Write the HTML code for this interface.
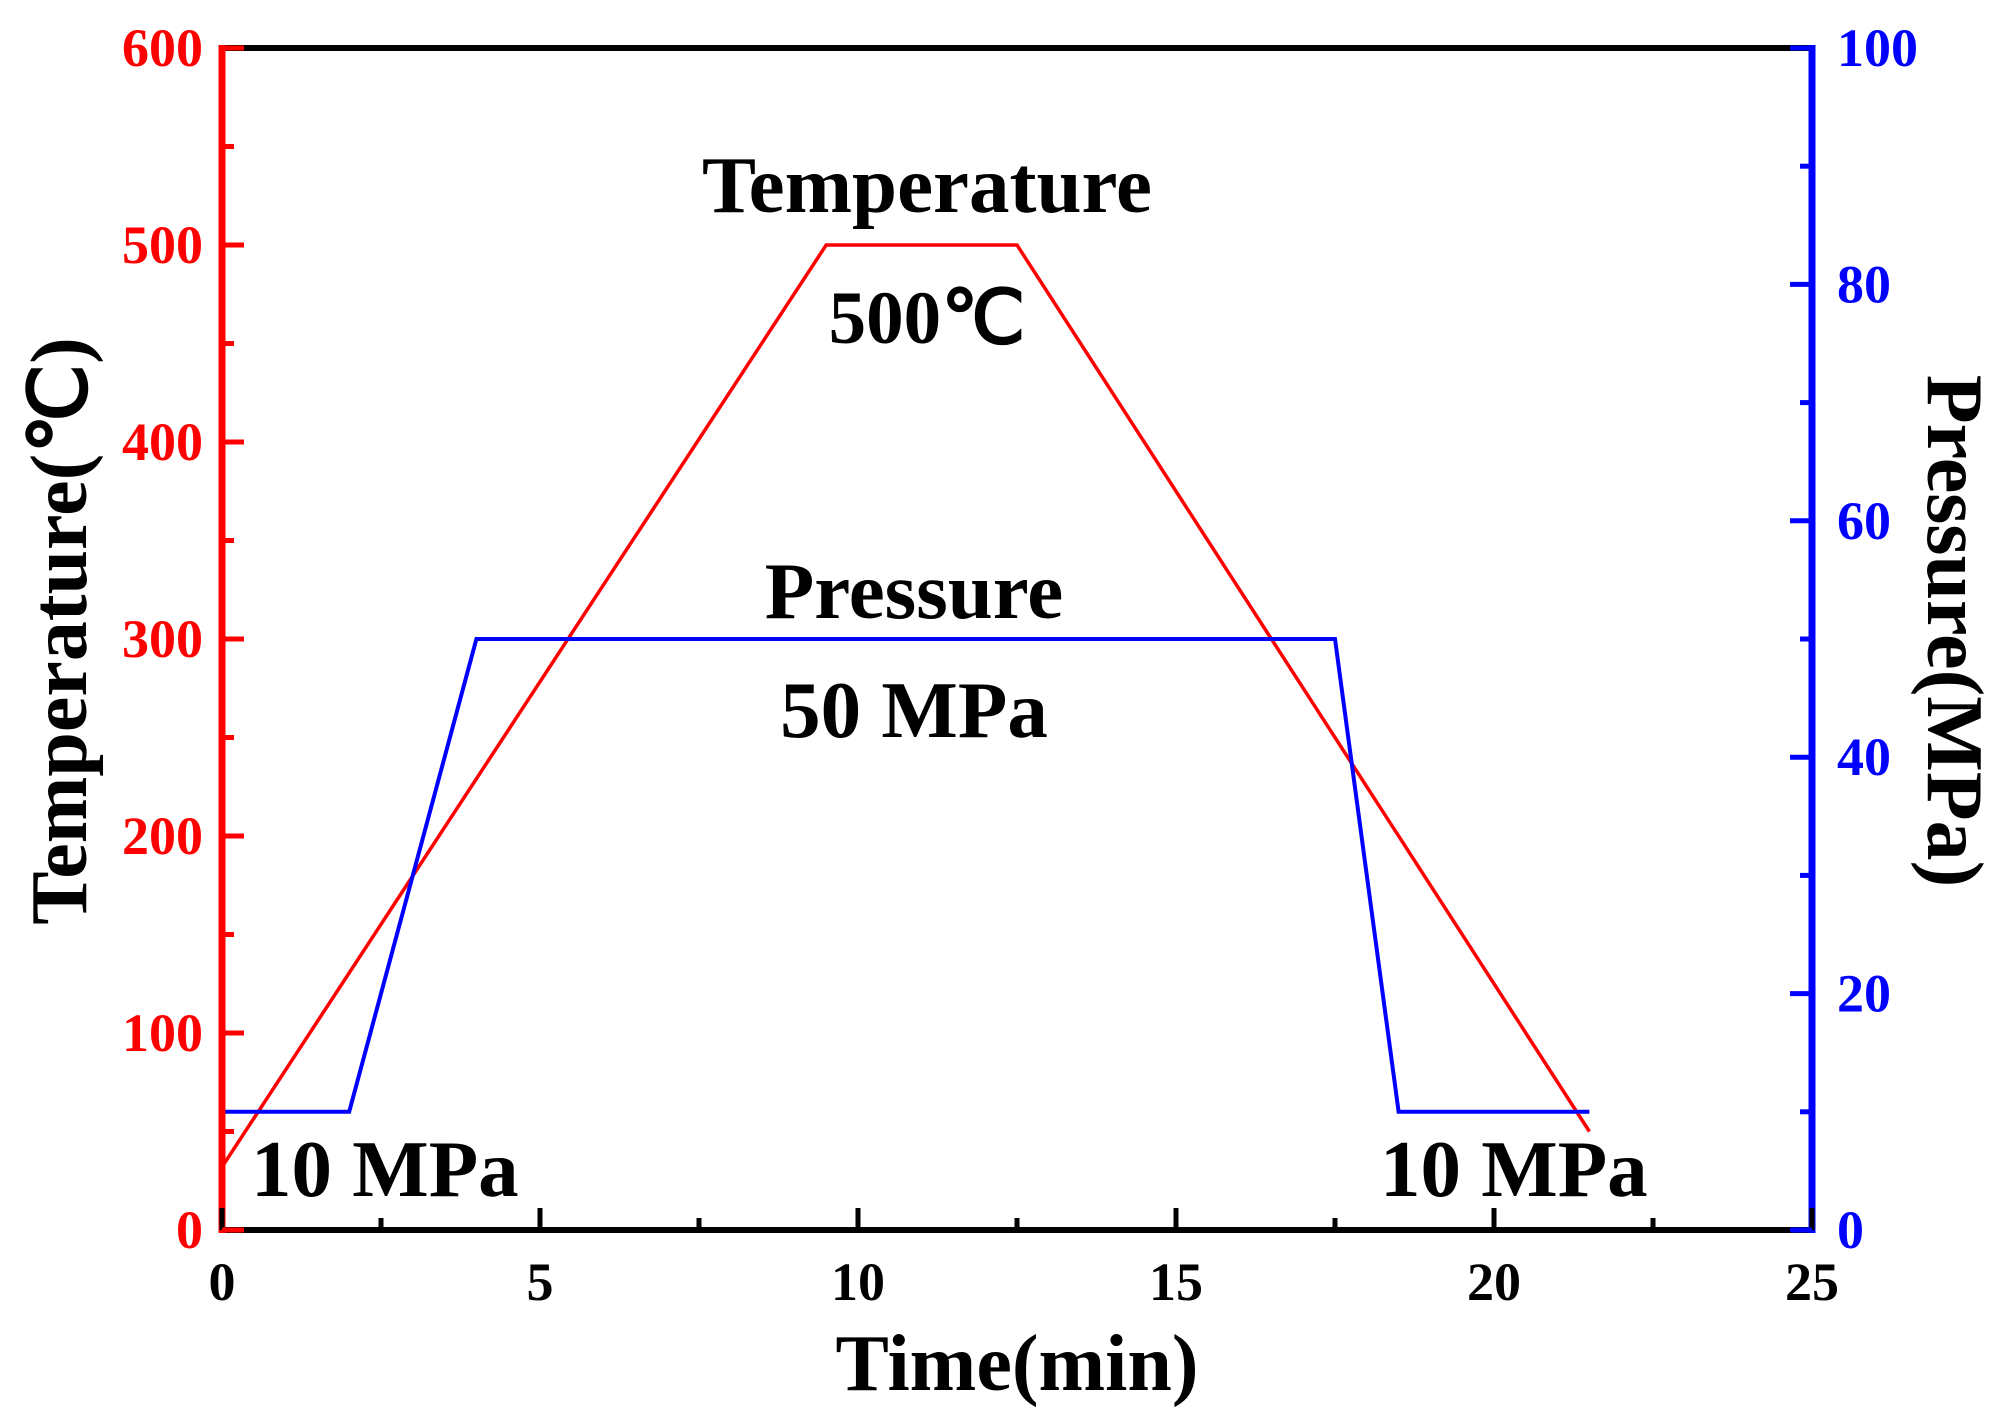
<!DOCTYPE html>
<html><head><meta charset="utf-8"><style>
html,body{margin:0;padding:0;background:#fff;}
svg{display:block;font-family:"Liberation Serif",serif;font-weight:bold;}
</style></head><body>
<svg id="chart" width="2008" height="1424" viewBox="0 0 2008 1424" xmlns="http://www.w3.org/2000/svg"></svg>
<script>
const timeVals=[0,9.5,12.5,21.5];
const tempVals=[32,500,500,50];
const presTime=[0,2,4,17.5,18.5,21.5];
const presVals=[10,10,50,50,10,10];
const xTicks=[0,5,10,15,20,25];
const tTicks=[0,100,200,300,400,500,600];
const pTicks=[0,20,40,60,80,100];

const L=222,R=1812,T=48,B=1230;
const X=v=>L+(v/25)*(R-L);
const YT=v=>B-(v/600)*(B-T);
const YP=v=>B-(v/100)*(B-T);
const svg=document.getElementById('chart');
const NS='http://www.w3.org/2000/svg';
function mk(tag,attrs,parent){const e=document.createElementNS(NS,tag);for(const k in attrs)e.setAttribute(k,attrs[k]);(parent||svg).appendChild(e);return e;}

const tl=mk('polyline',{points:timeVals.map((t,i)=>X(t)+','+YT(tempVals[i])).join(' '),fill:'none',stroke:'#ff0000','stroke-width':3.5});


const pl=mk('polyline',{points:presTime.map((t,i)=>X(t)+','+YP(presVals[i])).join(' '),fill:'none',stroke:'#0000ff','stroke-width':4});



const topAxis=mk('line',{x1:L,y1:T,x2:R,y2:T,stroke:'#000','stroke-width':6});


const xa=mk('line',{x1:L,y1:B,x2:R,y2:B,stroke:'#000','stroke-width':6});


const ya=mk('line',{x1:L,y1:T-3,x2:L,y2:B+3,stroke:'#ff0000','stroke-width':7});


const yb=mk('line',{x1:R,y1:T-3,x2:R,y2:B+3,stroke:'#0000ff','stroke-width':7});



for(let i=0;i<xTicks.length;i++){
  const v=xTicks[i];
  const tk=mk('line',{x1:X(v),y1:B,x2:X(v),y2:B-22,stroke:'#000','stroke-width':5});
  
  
  if(i<xTicks.length-1){const m=mk('line',{x1:X(v+2.5),y1:B,x2:X(v+2.5),y2:B-12,stroke:'#000','stroke-width':5});
  
  }
  const lb=mk('text',{x:X(v),y:1300,'text-anchor':'middle','font-size':54,fill:'#000'});
  lb.textContent=v;
  
  
}
for(let i=0;i<tTicks.length;i++){
  const v=tTicks[i];
  const tk=mk('line',{x1:L,y1:YT(v),x2:L+22,y2:YT(v),stroke:'#ff0000','stroke-width':5});
  
  
  if(i<tTicks.length-1){const m=mk('line',{x1:L,y1:YT(v+50),x2:L+12,y2:YT(v+50),stroke:'#ff0000','stroke-width':5});
  
  }
  const lb=mk('text',{x:203,y:YT(v)+18,'text-anchor':'end','font-size':54,fill:'#ff0000'});
  lb.textContent=v;
  
  
}
for(let i=0;i<pTicks.length;i++){
  const v=pTicks[i];
  const tk=mk('line',{x1:R,y1:YP(v),x2:R-22,y2:YP(v),stroke:'#0000ff','stroke-width':5});
  
  
  if(i<pTicks.length-1){const m=mk('line',{x1:R,y1:YP(v+10),x2:R-12,y2:YP(v+10),stroke:'#0000ff','stroke-width':5});
  
  }
  const lb=mk('text',{x:1837,y:YP(v)+18,'text-anchor':'start','font-size':54,fill:'#0000ff'});
  lb.textContent=v;
  
  
}
function txt(s,a,name){const e=mk('text',a);e.textContent=s;return e;}
txt('Time(min)',{x:1017,y:1390,'text-anchor':'middle','font-size':80,fill:'#000'},'x-axis-title');
txt('Temperature(℃)',{x:0,y:0,'text-anchor':'middle','font-size':80,fill:'#000',transform:'translate(86,631) rotate(-90)'},'temperature-axis-title');
txt('Pressure(MPa)',{x:0,y:0,'text-anchor':'middle','font-size':80,fill:'#000',transform:'translate(1928,631) rotate(90)'},'pressure-axis-title');
txt('Temperature',{x:927,y:212,'text-anchor':'middle','font-size':81,fill:'#000'},'temperature-label');
txt('500℃',{x:927,y:343,'text-anchor':'middle','font-size':75,fill:'#000'},'temperature-value-label');
txt('Pressure',{x:914,y:618,'text-anchor':'middle','font-size':81,fill:'#000'},'pressure-label');
txt('50 MPa',{x:914,y:737,'text-anchor':'middle','font-size':81,fill:'#000'},'pressure-value-label');
txt('10 MPa',{x:251,y:1196,'text-anchor':'start','font-size':81,fill:'#000'},'initial-pressure-label');
txt('10 MPa',{x:1380,y:1196,'text-anchor':'start','font-size':81,fill:'#000'},'final-pressure-label');
</script>
</body></html>
